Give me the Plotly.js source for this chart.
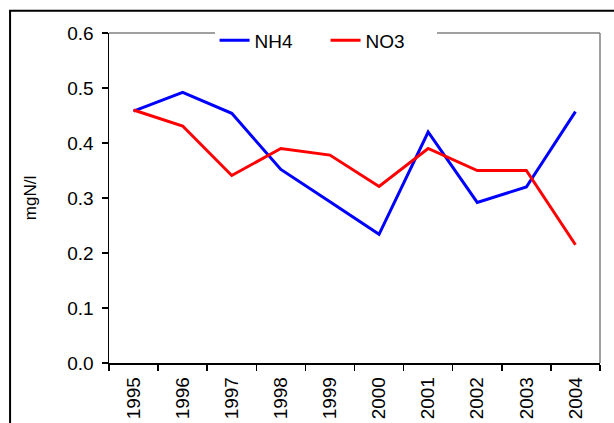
<!DOCTYPE html>
<html>
<head>
<meta charset="utf-8">
<script src="https://cdn.plot.ly/plotly-3.0.1.min.js"></script>
<style>
  html, body { margin: 0; padding: 0; background: #fff; }
  #chart { width: 614px; height: 423px; }
</style>
</head>
<body>
<div id="chart"></div>
<script>
const years = ["1995","1996","1997","1998","1999","2000","2001","2002","2003","2004"];
const nh4 = [0.458, 0.492, 0.454, 0.352, 0.293, 0.234, 0.420, 0.292, 0.320, 0.457];
const no3 = [0.460, 0.431, 0.341, 0.390, 0.378, 0.321, 0.390, 0.350, 0.350, 0.215];
const yTicks = [0, 0.1, 0.2, 0.3, 0.4, 0.5, 0.6];

const fam = "Liberation Sans, Arial, sans-serif";

const traces = [
  {x: years, y: nh4, type: "scatter", mode: "lines", name: "NH4",
   line: {color: "#0000FF", width: 3}},
  {x: years, y: no3, type: "scatter", mode: "lines", name: "NO3",
   line: {color: "#FF0000", width: 3}}
];

const layout = {
  width: 614, height: 423,
  margin: {l: 108.8, r: 13.8, t: 33.3, b: 59.7, pad: 0},
  paper_bgcolor: "#fff", plot_bgcolor: "#fff",
  font: {family: fam, size: 19, color: "#000"},
  showlegend: true,
  legend: {
    orientation: "h", x: 0.215, xanchor: "left", y: 1.035, yanchor: "top",
    bgcolor: "#fff", borderwidth: 0, font: {family: fam, size: 19, color: "#000"},
    entrywidth: 66, entrywidthmode: "pixels", tracegroupgap: 0
  },
  xaxis: {
    type: "category", range: [-0.5, 9.5], tickson: "boundaries", ticks: "outside", ticklen: 6,
    tickcolor: "#000", tickwidth: 1.5, showline: true, linecolor: "#000", linewidth: 1.5,
    showgrid: false, zeroline: false, tickangle: -90, ticklabelstandoff: 5,
    tickfont: {family: fam, size: 19, color: "#000"}, fixedrange: true
  },
  yaxis: {
    range: [0, 0.6], tickvals: yTicks, tickformat: ".1f", ticks: "outside", ticklen: 6,
    tickcolor: "#000", tickwidth: 1.5, showline: true, linecolor: "#000", linewidth: 1.5,
    showgrid: false, zeroline: false, ticklabelstandoff: 4,
    tickfont: {family: fam, size: 19, color: "#000"},
    title: {text: "mgN/l", font: {family: fam, size: 17, color: "#000"}, standoff: 26},
    fixedrange: true
  },
  shapes: [
    {type: "line", xref: "paper", yref: "paper", x0: 0, x1: 1, y0: 1, y1: 1,
     line: {color: "#808080", width: 1.5}, layer: "below"},
    {type: "line", xref: "paper", yref: "paper", x0: 1, x1: 1, y0: 0, y1: 1,
     line: {color: "#808080", width: 1.5}, layer: "below"},
    {type: "rect", xref: "paper", yref: "paper", x0: -0.2015, x1: 1.5, y0: -0.5, y1: 1.0676,
     line: {color: "#000", width: 2}, layer: "below"}
  ]
};

Plotly.newPlot("chart", traces, layout, {displayModeBar: false, staticPlot: true});
</script>
</body>
</html>
